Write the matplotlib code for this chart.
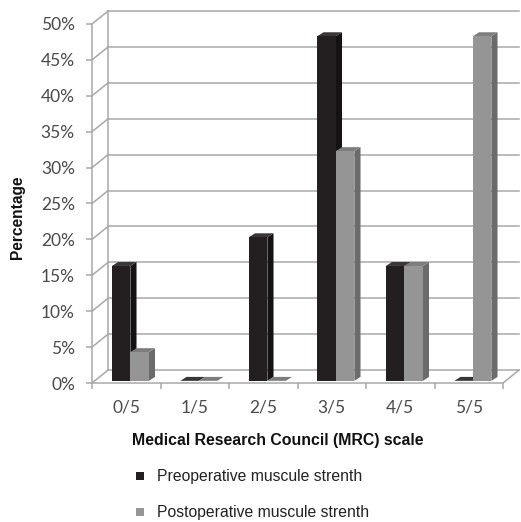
import numpy as np
import matplotlib
matplotlib.use('Agg')
from matplotlib import pyplot as plt
from matplotlib.patches import Polygon, Rectangle

# Data
categories = ['0/5', '1/5', '2/5', '3/5', '4/5', '5/5']
preop = [16, 0, 20, 48, 16, 0]
postop = [4, 0, 0, 32, 16, 48]
y_ticks = [0, 5, 10, 15, 20, 25, 30, 35, 40, 45, 50]
series_names = ['Preoperative muscule strenth', 'Postoperative muscule strenth']

# Colours (front, top, side)
pre_cols = ('#231f20', '#3a3637', '#151213')
post_cols = ('#959595', '#7d7d7d', '#6b6b6b')
grid_col = '#a8a8a8'
text_col = '#4a4a4a'

W, H = 521, 522
fig = plt.figure(figsize=(W / 100, H / 100), dpi=100)

# axes placed in pixel terms: front plane x 92..503, y 383..24
ax = fig.add_axes([92 / W, 1 - 383 / H, 411 / W, 359 / H])
ax.set_xlim(0, 6)
ax.set_ylim(0, 50)
ax.set_facecolor('none')

# depth offsets of the back wall and of the bars (data units)
wall_dx, wall_dy = 0.234, 1.8
bar_dx, bar_dy = 0.09, 0.55
base = 0.3
bar_w = 0.27

# back wall gridlines + left wall diagonals
for yv in y_ticks:
    ax.plot([0, wall_dx], [yv, yv + wall_dy], color=grid_col, lw=1.1, clip_on=False)
    ax.plot([wall_dx, 6 + wall_dx], [yv + wall_dy, yv + wall_dy], color=grid_col, lw=1.1, clip_on=False)
ax.plot([wall_dx, wall_dx], [wall_dy, 50 + wall_dy], color=grid_col, lw=1.1, clip_on=False)
# floor right edge
ax.plot([6, 6 + wall_dx], [0, wall_dy], color=grid_col, lw=1.1, clip_on=False)


def draw_bars(offset, values, cols):
    x = np.arange(len(values)) + offset
    for xi, v in zip(x, values):
        top = base + v
        side = Polygon([(xi + bar_w, base), (xi + bar_w + bar_dx, base + bar_dy),
                        (xi + bar_w + bar_dx, top + bar_dy), (xi + bar_w, top)],
                       closed=True, facecolor=cols[2], edgecolor='none', zorder=3, clip_on=False)
        cap = Polygon([(xi, top), (xi + bar_dx, top + bar_dy),
                       (xi + bar_w + bar_dx, top + bar_dy), (xi + bar_w, top)],
                      closed=True, facecolor=cols[1], edgecolor='none', zorder=3, clip_on=False)
        ax.add_patch(side)
        ax.add_patch(cap)
    ax.bar(x, values, width=bar_w, bottom=base, align='edge', color=cols[0],
           edgecolor='none', zorder=4, clip_on=False)


draw_bars(0.29, preop, pre_cols)
draw_bars(0.29 + bar_w, postop, post_cols)

# spines / ticks
for s in ['top', 'right']:
    ax.spines[s].set_visible(False)
ax.spines['left'].set_color(grid_col)
ax.spines['bottom'].set_color(grid_col)
ax.spines['left'].set_linewidth(1.1)
ax.spines['bottom'].set_linewidth(1.1)

ax.set_yticks(y_ticks)
ax.set_yticklabels([f'{v}%' for v in y_ticks])
ax.tick_params(axis='y', length=4.3, width=1.1, color=grid_col, pad=8,
               labelsize=12.5, labelcolor=text_col)
for lab in ax.get_yticklabels():
    lab.set_fontfamily('Lato')

ax.set_xticks(np.arange(len(categories)) + 0.5)
ax.set_xticklabels(categories)
ax.set_xticks(np.arange(len(categories) + 1), minor=True)
ax.tick_params(axis='x', which='major', length=0, pad=12, labelsize=12.5, labelcolor=text_col)
ax.tick_params(axis='x', which='minor', length=4, width=1.1, color=grid_col)
for lab in ax.get_xticklabels():
    lab.set_fontfamily('Lato')

# axis titles
fig.text(18 / W, 1 - 217 / H, 'Percentage', rotation=90, ha='center', va='center',
         fontsize=11.2, fontweight='bold', family='Liberation Sans', color='#111111')
fig.text(278 / W, 1 - 441 / H, 'Medical Research Council (MRC) scale', ha='center', va='center',
         fontsize=11.4, fontweight='bold', family='Liberation Sans', color='#111111')

# legend drawn by hand
for row_y, name, cols in [(476, series_names[0], pre_cols), (512, series_names[1], post_cols)]:
    fig.patches.append(Rectangle((136 / W, 1 - (row_y + 4) / H), 8 / W, 8 / H,
                                 transform=fig.transFigure, facecolor=cols[0], edgecolor='none'))
    fig.text(157 / W, 1 - row_y / H, name, ha='left', va='center', fontsize=11.3,
             family='Liberation Sans', color='#222222')

fig.savefig('out.png', dpi=100)
